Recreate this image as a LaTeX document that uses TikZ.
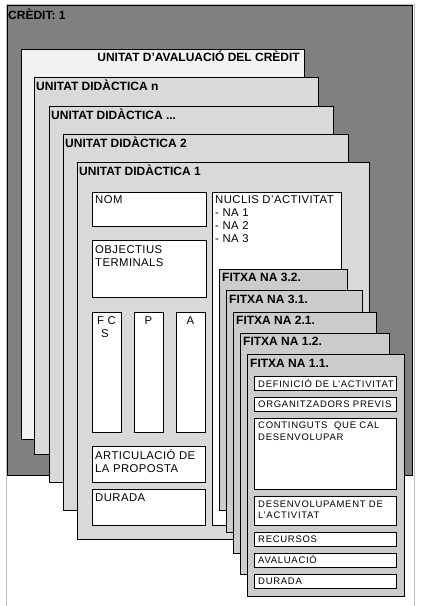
\documentclass[tikz,border=0pt]{standalone}
\usepackage{fontspec}
\setmainfont{Liberation Sans}
\newfontfamily\bodyfont[LetterSpace=4]{Liberation Sans}
\newfontfamily\smallfont[LetterSpace=7.5]{Liberation Sans}
\tikzset{
  x=1pt,y=-1pt,
  bx/.style={draw=black,line width=1pt,inner sep=0pt,outer sep=0pt,anchor=north west},
  hd/.style={font=\fontsize{12}{13}\selectfont\bfseries,inner sep=0pt,anchor=base west},
  tx/.style={font=\bodyfont\fontsize{11.3}{13}\selectfont,inner sep=0pt,anchor=base west},
  sx/.style={font=\smallfont\fontsize{9.5}{11}\selectfont,inner sep=0pt,anchor=base west},
}
\definecolor{darkbg}{HTML}{808080}
\definecolor{pale}{HTML}{F2F2F2}
\definecolor{udfill}{HTML}{D9D9D9}
\definecolor{fxfill}{HTML}{CCCCCC}
\definecolor{frame}{HTML}{C0C0C0}
\newcommand{\bx}[6]{\node[bx,fill=#6,minimum width={(#4-#2)*1pt},minimum height={(#5-#3)*1pt}] (#1) at (#2,#3) {};}
\begin{document}
\begin{tikzpicture}
\useasboundingbox (0,0) rectangle (426,606);
\fill[white] (0,0) rectangle (426,606);
\node[draw=frame,line width=1pt,inner sep=0pt,anchor=north west,minimum width=408pt,minimum height=620pt] (outer) at (6,4) {};
\bx{credit}{7}{5}{412}{475}{darkbg}
\node[hd] (tcredit) at (8,19) {CRÈDIT: 1};
\bx{uav}{21}{49}{304}{439}{pale}
\node[hd,anchor=base east] (tuav) at (300,61) {UNITAT D’AVALUACIÓ DEL CRÈDIT};
\bx{udn}{34}{77}{318}{454}{udfill}
\node[hd] (tudn) at (36,90) {UNITAT DIDÀCTICA n};
\bx{udd}{49}{106}{333}{482}{udfill}
\node[hd] (tudd) at (51,119) {UNITAT DIDÀCTICA ...};
\bx{ud2}{63}{134}{348}{510}{udfill}
\node[hd] (tud2) at (65,147) {UNITAT DIDÀCTICA 2};
\bx{ud1}{77}{162}{369}{539}{udfill}
\node[hd] (tud1) at (79,175) {UNITAT DIDÀCTICA 1};
% inner of UD1
\bx{nom}{92}{192}{206}{226}{white}
\node[tx] (tnom) at (95,203) {NOM};
\bx{obj}{92}{240}{206}{297}{white}
\node[tx] (tobj1) at (95,253) {OBJECTIUS};
\node[tx] (tobj2) at (95,266) {TERMINALS};
\bx{fcs}{92}{312}{121}{432}{white}
\node[tx] (tfcs1) at (97,324) {F C};
\node[tx] (tfcs2) at (101,337) {S};
\bx{pp}{134}{312}{163}{432}{white}
\node[tx,anchor=base] (tpp) at (148.5,324) {P};
\bx{aa}{176}{312}{205}{432}{white}
\node[tx,anchor=base] (taa) at (190.5,324) {A};
\bx{art}{92}{446}{205}{482}{white}
\node[tx] (tart1) at (95,459) {ARTICULACIÓ DE};
\node[tx] (tart2) at (95,472) {LA PROPOSTA};
\bx{dur}{92}{489}{205}{525}{white}
\node[tx] (tdur) at (95,501) {DURADA};
\bx{nuc}{212}{192}{341}{525}{white}
\node[tx] (tnuc) at (215,203) {NUCLIS D’ACTIVITAT};
\node[tx] (tna1) at (215,216) {- NA 1};
\node[tx] (tna2) at (215,229) {- NA 2};
\node[tx] (tna3) at (215,242) {- NA 3};
% fitxes
\bx{f32}{219}{269}{347}{510}{fxfill}
\node[hd] (tf32) at (222,281) {FITXA NA 3.2.};
\bx{f31}{226}{290}{362}{532}{fxfill}
\node[hd] (tf31) at (229,303) {FITXA NA 3.1.};
\bx{f21}{233}{312}{376}{553}{fxfill}
\node[hd] (tf21) at (236,324) {FITXA NA 2.1.};
\bx{f12}{240}{333}{389}{574}{fxfill}
\node[hd] (tf12) at (243,345) {FITXA NA 1.2.};
\bx{f11}{247}{354}{404}{596}{fxfill}
\node[hd] (tf11) at (250,367) {FITXA NA 1.1.};
% inner of fitxa 1.1
\bx{def}{254}{376}{396}{390}{white}
\node[sx] (tdef) at (258,387) {DEFINICIÓ DE L’ACTIVITAT};
\bx{org}{254}{397}{396}{411}{white}
\node[sx] (torg) at (258,407.5) {ORGANITZADORS PREVIS};
\bx{con}{254}{418}{396}{489}{white}
\node[sx] (tcon1) at (258,428) {CONTINGUTS \ QUE CAL};
\node[sx] (tcon2) at (258,440) {DESENVOLUPAR};
\bx{des}{254}{496}{396}{525}{white}
\node[sx] (tdes1) at (258,507) {DESENVOLUPAMENT DE};
\node[sx] (tdes2) at (258,518) {L’ACTIVITAT};
\bx{rec}{254}{532}{396}{546}{white}
\node[sx] (trec) at (258,542.5) {RECURSOS};
\bx{ava}{254}{553}{396}{567}{white}
\node[sx] (tava) at (258,563.5) {AVALUACIÓ};
\bx{fdur}{254}{574}{396}{588}{white}
\node[sx] (tfdur) at (258,584.5) {DURADA};
\end{tikzpicture}
\end{document}
